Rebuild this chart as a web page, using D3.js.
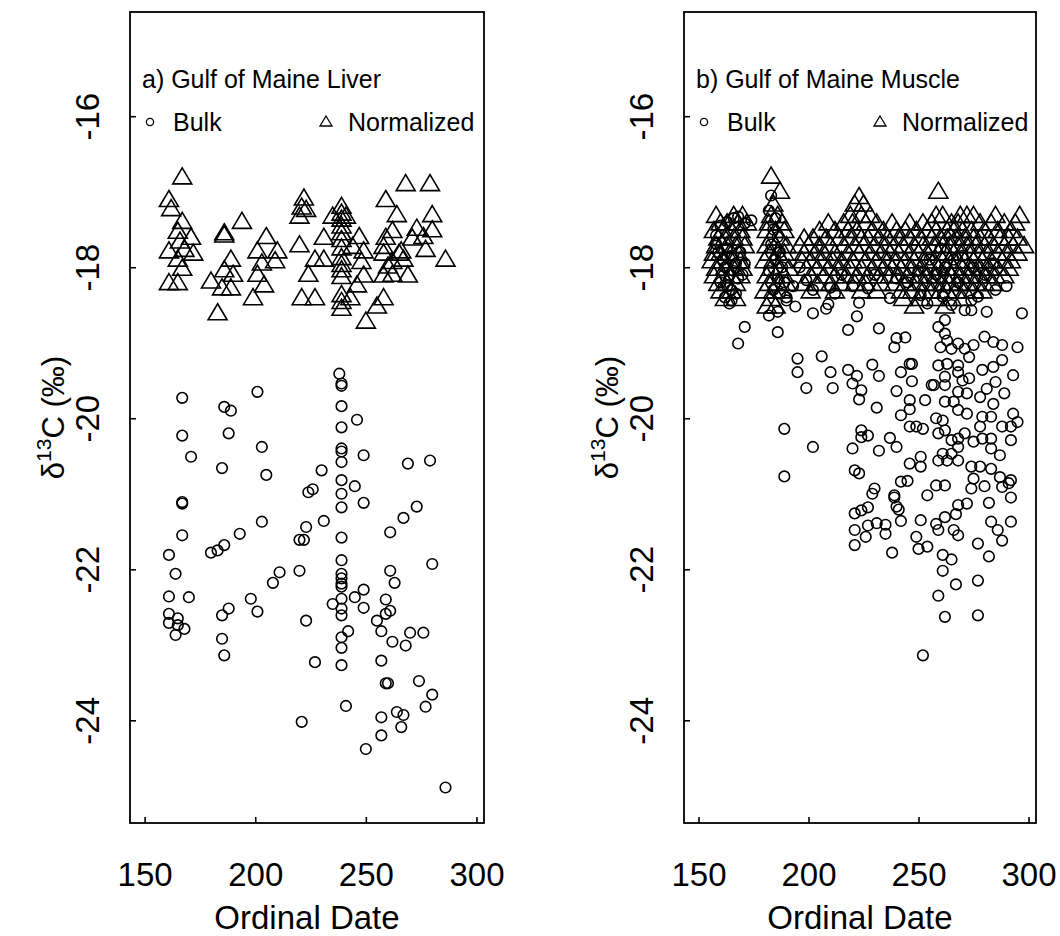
<!DOCTYPE html>
<html>
<head>
<meta charset="utf-8">
<script src="https://cdn.jsdelivr.net/npm/d3@7"></script>
<style>
    body { margin: 0; background: #ffffff; }
    svg text { font-family: "Liberation Sans", Arial, sans-serif; fill: #000; }
</style>
</head>
<body>
<div id="chart"></div>
<script>
// Gulf of Maine liver: bulk d13C by ordinal date
const liver_bulk = [
    [238,-19.41],[239,-19.54],[239,-19.57],[239,-19.84],[246,-20.02],[239,-20.12],[239,-20.40],[239,-20.44],
    [249,-20.49],[239,-20.58],[239,-20.82],[245,-20.90],[239,-21.00],[249,-21.12],[239,-21.18],[239,-21.58],
    [239,-21.88],[239,-22.06],[239,-22.12],[239,-22.19],[239,-22.23],[239,-22.39],[239,-22.52],[239,-22.61],
    [235,-22.46],[167,-19.73],[167,-20.23],[171,-20.51],[167,-21.11],[167,-21.13],[167,-21.55],[161,-21.81],
    [164,-22.06],[161,-22.36],[170,-22.37],[161,-22.59],[165,-22.65],[161,-22.71],[165,-22.74],[168,-22.79],
    [164,-22.87],[201,-19.65],[186,-19.85],[189,-19.90],[188,-20.20],[203,-20.38],[185,-20.66],[205,-20.75],
    [230,-20.69],[224,-20.98],[226,-20.94],[231,-21.36],[223,-21.44],[220,-21.61],[222,-21.61],[203,-21.37],
    [193,-21.53],[186,-21.68],[183,-21.75],[180,-21.78],[211,-22.04],[208,-22.18],[220,-22.02],[198,-22.39],
    [188,-22.52],[185,-22.61],[201,-22.56],[223,-22.68],[269,-20.60],[279,-20.56],[273,-21.17],[267,-21.32],
    [261,-21.51],[280,-21.93],[261,-22.02],[263,-22.18],[249,-22.27],[245,-22.37],[249,-22.51],[259,-22.40],
    [261,-22.55],[259,-22.59],[255,-22.68],[185,-22.92],[186,-23.14],[242,-22.82],[239,-22.90],[239,-23.04],
    [239,-23.27],[227,-23.23],[241,-23.81],[221,-24.02],[257,-22.82],[262,-22.96],[268,-23.01],[270,-22.84],
    [276,-22.84],[257,-23.21],[259,-23.51],[260,-23.51],[274,-23.48],[280,-23.66],[277,-23.82],[264,-23.89],
    [267,-23.93],[257,-23.96],[266,-24.09],[257,-24.20],[250,-24.38],[286,-24.89]
];

// Gulf of Maine liver: normalized d13C
const liver_norm = [
    [167,-16.79],[161,-17.09],[162,-17.21],[167,-17.38],[165,-17.51],[171,-17.59],[166,-17.64],[161,-17.77],
    [168,-17.75],[172,-17.80],[165,-17.88],[167,-18.00],[161,-18.19],[165,-18.19],[183,-18.59],[186,-17.53],
    [186,-17.56],[194,-17.38],[189,-17.88],[186,-18.02],[190,-18.08],[180,-18.17],[185,-18.26],[189,-18.26],
    [205,-17.58],[201,-17.77],[210,-17.77],[209,-17.90],[203,-17.93],[201,-18.08],[204,-18.22],[199,-18.39],
    [220,-17.69],[222,-17.07],[221,-17.19],[223,-17.22],[220,-17.31],[231,-17.59],[227,-17.88],[231,-17.88],
    [224,-18.08],[221,-18.39],[227,-18.39],[239,-17.18],[239,-17.27],[239,-17.35],[239,-17.44],[239,-17.53],
    [239,-17.62],[239,-17.73],[239,-17.86],[239,-17.95],[239,-18.02],[239,-18.11],[239,-18.35],[239,-18.44],
    [239,-18.53],[235,-17.31],[241,-17.31],[247,-17.58],[244,-17.71],[249,-17.77],[248,-17.91],[249,-18.09],
    [246,-18.22],[243,-18.39],[250,-18.70],[255,-18.50],[258,-18.39],[259,-17.09],[264,-17.29],[262,-17.50],
    [259,-17.59],[258,-17.71],[258,-17.80],[265,-17.80],[262,-17.91],[267,-17.88],[260,-17.97],[262,-18.08],
    [258,-18.09],[269,-18.09],[268,-16.88],[279,-16.88],[280,-17.29],[280,-17.49],[273,-17.47],[276,-17.58],
    [271,-17.60],[277,-17.75],[286,-17.88],[266,-17.77]
];

// Gulf of Maine muscle: bulk d13C
const muscle_bulk = [
    [158,-17.58],[158,-17.69],[160,-17.45],[163,-17.40],[166,-17.35],[168,-17.33],[171,-17.42],[174,-17.38],
    [159,-17.80],[161,-17.90],[163,-17.75],[165,-17.85],[167,-17.95],[169,-17.80],[162,-18.00],[164,-18.10],
    [166,-18.05],[168,-18.15],[160,-18.20],[163,-18.25],[165,-18.30],[167,-18.35],[162,-18.40],[165,-18.44],
    [164,-18.48],[170,-18.10],[171,-17.95],
    [183,-17.05],[182,-17.25],[185,-17.35],[184,-17.50],[186,-17.60],[183,-17.70],[187,-17.80],[185,-17.90],
    [188,-18.00],[182,-18.05],[186,-18.15],[189,-18.20],[184,-18.30],[187,-18.35],[190,-18.40],
    [196,-18.00],[215,-18.10],[258,-18.10],[262,-18.00],[266,-17.90],[270,-17.85],[275,-18.00],[280,-18.10],
    [284,-17.95],[268,-18.20],[285,-18.30],[290,-18.25],[255,-17.90],[260,-17.75],[250,-18.05],[240,-18.15],
    [230,-18.10],[212,-18.35],[245,-18.20],[265,-18.50],[223,-18.47],
    [171,-18.79],[168,-19.01],[186,-18.86],[182,-18.64],[186,-18.59],[190,-18.44],[194,-18.52],[202,-18.61],
    [208,-18.55],[209,-18.49],[218,-18.83],[222,-18.65],[232,-18.81],[240,-18.94],[244,-18.93],[239,-19.06],
    [195,-19.21],[195,-19.39],[199,-19.60],[206,-19.18],[210,-19.39],[211,-19.60],[218,-19.36],[222,-19.44],
    [220,-19.54],[224,-19.63],[223,-19.75],[229,-19.29],[232,-19.44],[231,-19.86],[240,-19.64],[242,-19.39],
    [246,-19.28],[247,-19.28],[247,-19.51],[246,-19.76],[246,-19.88],[242,-19.96],[253,-19.76],[256,-19.56],
    [246,-20.11],[249,-20.11],[252,-20.14],[224,-20.16],[224,-20.25],[227,-20.23],[220,-20.40],[232,-20.43],
    [237,-20.26],[240,-20.38],[189,-20.14],[202,-20.38],[189,-20.77],[221,-20.69],[223,-20.73],[230,-20.93],
    [229,-21.00],[239,-21.02],[242,-20.84],[245,-20.83],[246,-20.60],[251,-20.51],[251,-20.64],[254,-21.02],
    [258,-20.89],[262,-20.89],
    [262,-18.70],[259,-18.79],[262,-18.88],[263,-18.97],[260,-19.06],[265,-19.08],[268,-19.01],[271,-19.08],
    [275,-19.03],[273,-19.19],[268,-19.30],[263,-19.28],[259,-19.30],[262,-19.45],[257,-19.56],[262,-19.56],
    [268,-19.39],[270,-19.50],[273,-19.47],[268,-19.65],[272,-19.67],[266,-19.78],[268,-19.89],[272,-19.94],
    [262,-19.78],[261,-20.03],[258,-20.00],[259,-20.20],[262,-20.16],[265,-20.29],[268,-20.27],[271,-20.20],
    [268,-20.38],[265,-20.47],[261,-20.47],[259,-20.56],[263,-20.56],[268,-20.56],
    [280,-18.92],[284,-18.99],[288,-19.03],[295,-19.06],[279,-19.36],[284,-19.32],[288,-19.23],[293,-19.43],
    [289,-19.67],[285,-19.52],[281,-19.61],[278,-19.72],[284,-19.81],[279,-19.98],[283,-19.98],[293,-19.94],
    [295,-20.05],[288,-20.11],[292,-20.11],[278,-20.11],[275,-20.31],[279,-20.27],[283,-20.27],[292,-20.29],
    [283,-20.40],[287,-20.49],[274,-20.64],[278,-20.64],[283,-20.67],[287,-20.78],[292,-20.82],[275,-20.80],
    [297,-18.61],[271,-18.57],[274,-18.57],[281,-18.59],[274,-18.44],[277,-18.39],[254,-18.48],[261,-18.39],
    [251,-18.37],[237,-18.41],[227,-18.28],[220,-18.25],[210,-18.27],[202,-18.30],[199,-18.17],[193,-18.25],
    [221,-21.26],[224,-21.22],[227,-21.18],[239,-21.05],[240,-21.17],[241,-21.21],[221,-21.48],[227,-21.42],
    [231,-21.39],[235,-21.41],[235,-21.53],[226,-21.57],[221,-21.68],[242,-21.36],[238,-21.78],[251,-21.35],
    [249,-21.57],[250,-21.73],[254,-21.70],[258,-21.40],[259,-21.48],[262,-21.31],[267,-21.27],[266,-21.48],
    [268,-21.55],[272,-21.13],[274,-20.93],[268,-21.15],[261,-21.81],[265,-21.87],[261,-22.02],[267,-22.20],
    [259,-22.35],[262,-22.63],[277,-22.61],[277,-22.15],[277,-21.66],[282,-21.83],[288,-21.62],[286,-21.48],
    [283,-21.37],[292,-21.37],[282,-21.12],[292,-21.05],[288,-20.91],[291,-20.86],[280,-20.90],[252,-23.14]
];

// Gulf of Maine muscle: normalized d13C, read as rows of equal value (days per row)
const muscle_norm_outliers = [
    [183,-16.78],[187,-16.98],[259,-16.98],[223,-17.05],[221,-17.15],[225,-17.15],[184,-17.15]
];
const muscle_norm_rows = [
    [-17.3, [158,166,170,183,186,219,224,228,258,261,269,272,275,285,296]],
    [-17.4, [160,163,168,172,182,188,209,216,220,226,231,238,246,252,256,265,268,278,283,289,294]],
    [-17.5, [157,161,165,169,181,185,189,205,212,218,222,229,234,240,244,249,254,258,263,266,270,274,280,286,292]],
    [-17.6, [159,162,166,170,183,187,198,202,208,214,219,224,227,232,236,241,246,251,256,260,263,267,271,275,278,282,287,291,295]],
    [-17.7, [158,163,167,171,181,185,190,196,200,205,210,216,221,225,230,235,239,243,248,252,257,261,264,268,272,276,280,284,289,293,298]],
    [-17.8, [157,160,164,168,182,186,189,198,203,207,212,218,223,228,233,237,241,246,250,254,259,262,266,269,273,277,281,286,290,295]],
    [-17.9, [156,161,165,169,180,184,188,197,201,206,211,215,220,226,231,236,240,244,248,253,257,261,264,268,271,275,279,283,288,292]],
    [-18.0, [158,162,166,170,183,187,191,199,204,209,214,219,224,229,234,238,242,247,251,255,259,263,266,270,274,278,282,286,291]],
    [-18.1, [157,161,165,169,181,185,189,201,207,212,217,222,227,232,237,241,245,250,254,258,262,265,269,273,277,281,285,289]],
    [-18.2, [159,163,167,182,186,190,198,204,210,215,221,226,233,239,244,249,253,257,261,264,268,272,276,280,284]],
    [-18.3, [160,165,180,184,188,201,212,224,231,242,247,252,256,260,263,267,271,275,279]],
    [-18.4, [162,167,183,243,251,258,265,270]],
    [-18.5, [181,185,248,262]]
];

const x_ticks = [150, 200, 250, 300];
const y_ticks = [-24, -22, -20, -18, -16];
const panel_titles = ['a) Gulf of Maine Liver', 'b) Gulf of Maine Muscle'];
const legend_labels = ['Bulk', 'Normalized'];

const muscle_norm = muscle_norm_outliers.concat(
    muscle_norm_rows.flatMap(r => r[1].map(day => [day, r[0]]))
);

const attributes = {
    width: 1060,
    height: 936,
    top: 12,
    bottom: 823,
    panels: [
        {left: 130, right: 484, bulk: liver_bulk, norm: liver_norm},
        {left: 684, right: 1036, bulk: muscle_bulk, norm: muscle_norm}
    ]
};

const svg = d3.select('#chart').append('svg')
    .attr('width', attributes.width)
    .attr('height', attributes.height);

svg.append('rect').attr('width', attributes.width).attr('height', attributes.height).attr('fill', '#fff');

// triangle drawn around the middle of its box, like R's pch = 2
function triangle_path(w, h) {
    return 'M0,' + (-h / 2) + 'L' + (w / 2) + ',' + (h / 2) + 'L' + (-w / 2) + ',' + (h / 2) + 'Z';
}

attributes.panels.forEach((p, i) => draw_panel(p, i));

function draw_panel(panel, index) {
    const x_scale = d3.scaleLinear().domain([143.4, 303.4]).range([panel.left, panel.right]);
    const y_scale = d3.scaleLinear().domain([-25.36, -14.62]).range([attributes.bottom, attributes.top]);

    const g = svg.append('g');

    // bottom axis, ticks pointing inwards
    g.append('g')
        .attr('transform', 'translate(0,' + attributes.bottom + ')')
        .call(d3.axisBottom(x_scale).tickValues(x_ticks).tickSizeInner(-6).tickSizeOuter(0).tickFormat(d3.format('d')))
        .call(a => a.select('.domain').remove())
        .call(a => a.selectAll('line').attr('stroke', '#000').attr('stroke-width', 1.6))
        .selectAll('text')
        .attr('y', 63)
        .attr('dy', null)
        .style('font-size', '33px');

    // left axis with labels parallel to the axis
    g.append('g')
        .attr('transform', 'translate(' + panel.left + ',0)')
        .call(d3.axisLeft(y_scale).tickValues(y_ticks).tickSizeInner(-6).tickSizeOuter(0).tickFormat(d => '-' + Math.abs(d)))
        .call(a => a.select('.domain').remove())
        .call(a => a.selectAll('line').attr('stroke', '#000').attr('stroke-width', 1.6))
        .selectAll('text')
        .attr('x', 0)
        .attr('dy', null)
        .attr('text-anchor', 'middle')
        .attr('transform', 'translate(-31,0) rotate(-90)')
        .style('font-size', '33px');

    // box
    g.append('rect')
        .attr('x', panel.left)
        .attr('y', attributes.top)
        .attr('width', panel.right - panel.left)
        .attr('height', attributes.bottom - attributes.top)
        .attr('fill', 'none')
        .attr('stroke', '#000')
        .attr('stroke-width', 1.8);

    // axis titles
    g.append('text')
        .attr('x', (panel.left + panel.right) / 2)
        .attr('y', attributes.bottom + 106)
        .attr('text-anchor', 'middle')
        .style('font-size', '33px')
        .text('Ordinal Date');

    const y_title = g.append('text')
        .attr('transform', 'translate(' + (panel.left - 66) + ',' + ((attributes.top + attributes.bottom) / 2) + ') rotate(-90)')
        .attr('text-anchor', 'middle')
        .style('font-size', '31px');
    y_title.append('tspan').text('δ');
    y_title.append('tspan').attr('dy', -13).style('font-size', '21px').text('13');
    y_title.append('tspan').attr('dy', 13).text('C (‰)');

    // panel title and legend
    g.append('text')
        .attr('x', panel.left + 12)
        .attr('y', 88)
        .style('font-size', '25px')
        .text(panel_titles[index]);

    g.append('circle')
        .attr('cx', panel.left + 20)
        .attr('cy', 122)
        .attr('r', 3.6)
        .attr('fill', 'none')
        .attr('stroke', '#000')
        .attr('stroke-width', 1.3);
    g.append('text')
        .attr('x', panel.left + 43)
        .attr('y', 131)
        .style('font-size', '25px')
        .text(legend_labels[0]);
    g.append('path')
        .attr('d', triangle_path(12, 10))
        .attr('transform', 'translate(' + (panel.left + 196) + ',121)')
        .attr('fill', 'none')
        .attr('stroke', '#000')
        .attr('stroke-width', 1.3);
    g.append('text')
        .attr('x', panel.left + 218)
        .attr('y', 131)
        .style('font-size', '25px')
        .text(legend_labels[1]);

    // bulk points
    g.append('g')
        .selectAll('circle')
        .data(panel.bulk)
        .join('circle')
        .attr('cx', d => x_scale(d[0]))
        .attr('cy', d => y_scale(d[1]))
        .attr('r', 5.3)
        .attr('fill', 'none')
        .attr('stroke', '#000')
        .attr('stroke-width', 1.6);

    // normalized points
    g.append('g')
        .selectAll('path')
        .data(panel.norm)
        .join('path')
        .attr('d', triangle_path(19, 16))
        .attr('transform', d => 'translate(' + x_scale(d[0]) + ',' + y_scale(d[1]) + ')')
        .attr('fill', 'none')
        .attr('stroke', '#000')
        .attr('stroke-width', 1.6);
}
</script>
</body>
</html>
